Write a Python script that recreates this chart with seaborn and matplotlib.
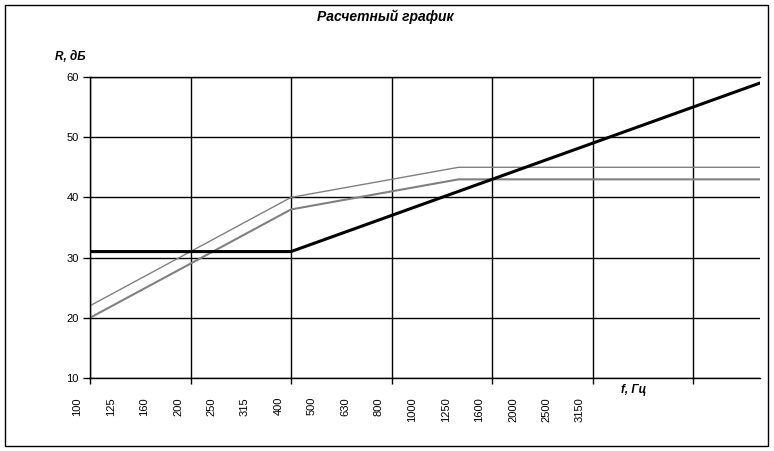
import matplotlib
matplotlib.use("Agg")
import matplotlib.pyplot as plt
import matplotlib.transforms as mtransforms
import seaborn as sns

# third-octave bands shown on the x axis
bands = ['100', '125', '160', '200', '250', '315', '400', '500', '630',
         '800', '1000', '1250', '1600', '2000', '2500', '3150']

# breakpoints of each curve: band step index and R, dB
norm_x = [0, 6, 20]
norm_r = [31, 31, 59]
upper_x = [0, 6, 11, 20]
upper_r = [22, 40, 45, 45]
lower_x = [0, 6, 11, 20]
lower_r = [20, 38, 43, 43]

y_ticks = [10, 20, 30, 40, 50, 60]

sns.set_style("white")
plt.rcParams['font.family'] = ['Liberation Sans', 'DejaVu Sans']
plt.rcParams['text.color'] = 'black'
plt.rcParams['xtick.color'] = 'black'
plt.rcParams['ytick.color'] = 'black'

fig = plt.figure(figsize=(7.74, 4.51), dpi=100)
ax = fig.add_axes([90 / 774, 1 - 378 / 451, 670 / 774, 301 / 451])

sns.lineplot(x=upper_x, y=upper_r, ax=ax, color='#808080', lw=1.0)
sns.lineplot(x=lower_x, y=lower_r, ax=ax, color='#808080', lw=1.5)
sns.lineplot(x=norm_x, y=norm_r, ax=ax, color='black', lw=2.2)

# gridlines every 3 bands
ax.set_xticks(range(0, 20, 3))
ax.set_xticklabels([])
ax.tick_params(axis='x', direction='out', length=4, width=1)

# band labels sit a little left of their band position (Excel style)
shift = mtransforms.ScaledTranslation(-12.5 / 100, -19 / 100, fig.dpi_scale_trans)
for i, b in enumerate(bands):
    ax.text(i, 0, b, transform=ax.get_xaxis_transform() + shift,
            rotation=90, ha='center', va='top', fontsize=8, clip_on=False)

ax.set_yticks(y_ticks)
ax.set_yticklabels([str(v) for v in y_ticks], fontsize=8)
ax.tick_params(axis='y', direction='out', length=5, width=1, pad=3)
ax.tick_params(left=True, bottom=True)

ax.set_xlim(0, 20)
ax.set_ylim(10, 60)

ax.grid(True, color='black', lw=1)
ax.set_axisbelow(True)
ax.spines['right'].set_visible(False)
for side in ['left', 'bottom', 'top']:
    ax.spines[side].set_color('black')
    ax.spines[side].set_linewidth(1)

bold_it = dict(fontweight='bold', fontstyle='italic')
fig.text(385 / 774, 1 - 17 / 451, 'Расчетный график', ha='center', va='center',
         fontsize=10, **bold_it)
fig.text(55 / 774, 1 - 57 / 451, 'R, дБ', ha='left', va='center',
         fontsize=8.5, **bold_it)
fig.text(621 / 774, 1 - 390 / 451, 'f, Гц', ha='left', va='center',
         fontsize=8.5, **bold_it)

# outer chart frame
fig.patches.append(plt.Rectangle((5 / 774, 5 / 451), 763 / 774, 441 / 451,
                                 transform=fig.transFigure, fill=False,
                                 edgecolor='black', lw=1))

fig.savefig('out.png', dpi=100)
